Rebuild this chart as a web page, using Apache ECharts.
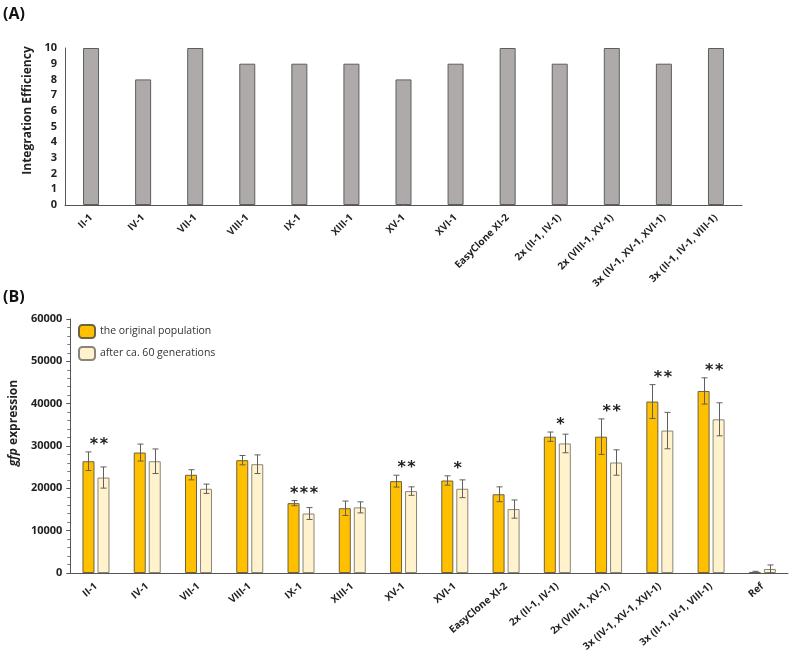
<!DOCTYPE html>
<html><head><meta charset="utf-8">
<script src="https://cdn.jsdelivr.net/npm/echarts@6/dist/echarts.min.js"></script>
<style>html,body{margin:0;padding:0;background:#fff}#c{width:792px;height:658px}</style>
</head><body><div id="c"></div>
<script>
const catsA = ['II-1','IV-1','VII-1','VIII-1','IX-1','XIII-1','XV-1','XVI-1','EasyClone XI-2','2x (II-1, IV-1)','2x (VIII-1, XV-1)','3x (IV-1, XV-1, XVI-1)','3x (II-1, IV-1, VIII-1)'];
const effA = [10,8,10,9,9,9,8,9,10,9,10,9,10];
const catsB = ['II-1','IV-1','VII-1','VIII-1','IX-1','XIII-1','XV-1','XVI-1','EasyClone XI-2','2x (II-1, IV-1)','2x (VIII-1, XV-1)','3x (IV-1, XV-1, XVI-1)','3x (II-1, IV-1, VIII-1)','Ref'];
const origB = [26400,28450,23200,26650,16500,15300,21700,21850,18600,32200,32200,40500,43000,250];
const origErr = [2200,2000,1200,1100,600,1700,1400,1100,1750,1100,4200,4000,3100,150];
const afterB = [22550,26400,19900,25700,14050,15500,19350,19900,15100,30600,26100,33650,36300,950];
const afterErr = [2500,2900,1100,2200,1400,1300,1000,2100,2150,2200,3000,4300,3900,950];
const stars = ['**','','','','***','','**','*','','*','**','**','**',''];
const yTicksB = [0,10000,20000,30000,40000,50000,60000];

const FONT = 'Open Sans';
const BW = 12, GAP = 3;
function errSeries(vals, errs, side) {
  return {
    type: 'custom', xAxisIndex: 1, yAxisIndex: 1, z: 5,
    data: vals.map((v, i) => [i, v - errs[i], v + errs[i]]),
    renderItem: function (params, api) {
      const i = api.value(0);
      const cx = Math.round(api.coord([i, 0])[0] + side * (BW + GAP) / 2) + 0.5;
      const lo = api.coord([i, api.value(1)])[1];
      const hi = api.coord([i, api.value(2)])[1];
      const st = { stroke: '#5f5f5f', lineWidth: 1 };
      return { type: 'group', children: [
        { type: 'line', shape: { x1: cx, y1: lo, x2: cx, y2: hi }, style: st },
        { type: 'line', shape: { x1: cx - 3, y1: lo, x2: cx + 3, y2: lo }, style: st },
        { type: 'line', shape: { x1: cx - 3, y1: hi, x2: cx + 3, y2: hi }, style: st }
      ]};
    }
  };
}
const starSeries = {
  type: 'custom', xAxisIndex: 1, yAxisIndex: 1, z: 6,
  data: catsB.map((c, i) => [i, Math.max(origB[i] + origErr[i], afterB[i] + afterErr[i])]),
  renderItem: function (params, api) {
    const i = api.value(0);
    const s = stars[i];
    if (!s) return null;
    const p = api.coord([i, api.value(1)]);
    return { type: 'text', style: { text: s.split('').join('\u200A'), x: p[0] + 3, y: p[1] + 1,
      textAlign: 'center', textVerticalAlign: 'bottom', font: 'bold 16px "DejaVu Sans"', fill: '#222' } };
  }
};

const chart = echarts.init(document.getElementById('c'));
chart.setOption({
  animation: false,
  backgroundColor: '#fff',
  textStyle: { fontFamily: FONT },
  graphic: [
    { type: 'text', left: 3, top: 6, style: { text: '(A)', font: 'bold 16px "Open Sans"', fill: '#111' } },
    { type: 'text', left: 3, top: 289, style: { text: '(B)', font: 'bold 16px "Open Sans"', fill: '#111' } }
  ],
  legend: {
    left: 73, top: 319, orient: 'vertical', itemWidth: 16, itemHeight: 13, itemGap: 7,
    data: ['the original population', 'after ca. 60 generations'],
    textStyle: { fontFamily: FONT, fontSize: 10.5, color: '#333' }
  },
  grid: [
    { left: 65, right: 50, top: 48, bottom: 453 },
    { left: 68, right: 4, top: 319, bottom: 85 }
  ],
  xAxis: [
    { type: 'category', gridIndex: 0, data: catsA,
      axisLine: { lineStyle: { color: '#555', width: 1 } }, axisTick: { show: false },
      axisLabel: { rotate: 45, interval: 0, margin: 11, fontSize: 10, fontWeight: 'bold', color: '#222', fontFamily: FONT } },
    { type: 'category', gridIndex: 1, data: catsB,
      axisLine: { lineStyle: { color: '#555', width: 1 } }, axisTick: { show: false },
      axisLabel: { rotate: 40, interval: 0, margin: 12, fontSize: 10, fontWeight: 'bold', color: '#222', fontFamily: FONT } }
  ],
  yAxis: [
    { type: 'value', gridIndex: 0, min: 0, max: 10, interval: 1,
      name: 'Integration Efficiency', nameLocation: 'middle', nameGap: 30,
      nameTextStyle: { fontSize: 12, fontWeight: 'bold', color: '#222', fontFamily: FONT, padding: [0, 0, 0, 32] },
      axisLine: { show: true, lineStyle: { color: '#555' } }, axisTick: { show: false }, splitLine: { show: false },
      axisLabel: { fontSize: 11, fontWeight: 'bold', color: '#222', margin: 8 } },
    { type: 'value', gridIndex: 1, min: 0, max: 60000, interval: 10000,
      name: '{i|gfp} expression', nameLocation: 'middle', nameGap: 47,
      nameTextStyle: { fontSize: 12, fontWeight: 'bold', color: '#222', fontFamily: FONT, padding: [0, 0, 0, 46],
        rich: { i: { fontStyle: 'italic', fontWeight: 'bold', fontSize: 12, color: '#222', fontFamily: FONT } } },
      axisLine: { show: true, lineStyle: { color: '#555' } },
      axisTick: { show: true, length: 4, lineStyle: { color: '#555' } },
      minorTick: { show: true, splitNumber: 5, length: 3, lineStyle: { color: '#777' } },
      splitLine: { show: false },
      axisLabel: { fontSize: 11, fontWeight: 'bold', color: '#222', margin: 8,
        formatter: v => yTicksB.includes(v) ? String(v) : '' } }
  ],
  series: [
    { type: 'bar', xAxisIndex: 0, yAxisIndex: 0, data: effA, barWidth: 16,
      itemStyle: { color: '#aeaaaa', borderColor: '#5e5e5e', borderWidth: 1 } },
    { name: 'the original population', type: 'bar', xAxisIndex: 1, yAxisIndex: 1, data: origB,
      barWidth: BW, barGap: (GAP / BW * 100) + '%',
      itemStyle: { color: '#ffc000', borderColor: '#6f6240', borderWidth: 1 } },
    { name: 'after ca. 60 generations', type: 'bar', xAxisIndex: 1, yAxisIndex: 1, data: afterB,
      barWidth: BW,
      itemStyle: { color: '#fff2cc', borderColor: '#8a8577', borderWidth: 1 } },
    errSeries(origB, origErr, -1),
    errSeries(afterB, afterErr, 1),
    starSeries
  ]
});
</script></body></html>
